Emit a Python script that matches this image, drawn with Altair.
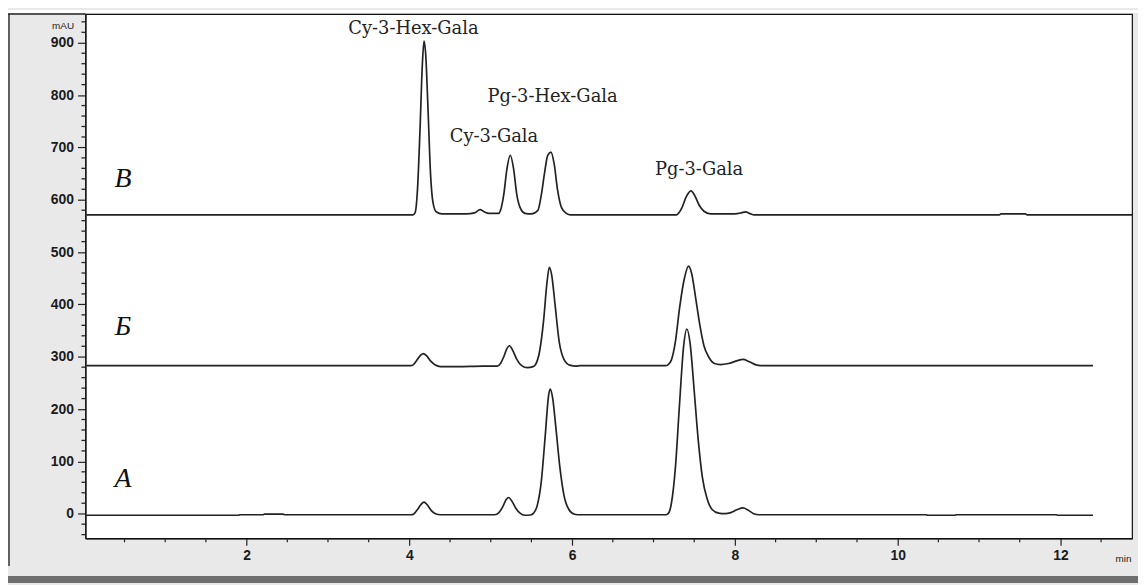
import altair as alt
import pandas as pd

# ---- chromatogram traces (time in min, signal in mAU) ----
a_t = [0.03, 1.90, 1.92, 2.20, 2.22, 2.45, 2.47, 4.02,
       4.05, 4.10, 4.14, 4.18, 4.22, 4.27, 4.32, 4.38,
       5.05, 5.10, 5.15, 5.19, 5.22, 5.26, 5.31, 5.36, 5.42, 5.50,
       5.52, 5.57, 5.62, 5.67, 5.71, 5.73, 5.76, 5.80, 5.85, 5.90, 5.96, 6.03, 6.10,
       7.15, 7.18, 7.22, 7.27, 7.32, 7.37, 7.41, 7.45, 7.50, 7.55, 7.60, 7.66, 7.72,
       7.80, 7.88, 7.95, 8.03, 8.10, 8.16, 8.23, 8.30,
       10.35, 10.37, 10.70, 10.72, 11.95, 11.97, 12.40]
a_v = [-3, -3, -2, -2, -1, -1, -2, -2,
       -1, 8, 17, 22, 17, 6, 0, -2,
       -2, 2, 14, 27, 31, 24, 10, 1, -3, -2,
       0, 15, 60, 150, 225, 238, 222, 165, 88, 35, 8, -1, -2,
       -2, 0, 20, 90, 210, 320, 353, 325, 235, 140, 70, 28, 8,
       1, 0, 2, 8, 11, 7, 0, -2,
       -2, -3, -3, -2, -2, -3, -3]

b_t = [0.03, 4.02, 4.05, 4.10, 4.14, 4.17, 4.21, 4.26, 4.32, 4.38, 4.60, 4.90,
       5.08, 5.12, 5.16, 5.20, 5.23, 5.27, 5.32, 5.38, 5.45, 5.52,
       5.55, 5.60, 5.65, 5.69, 5.72, 5.75, 5.79, 5.84, 5.90, 5.97, 6.05, 6.10,
       7.15, 7.18, 7.22, 7.27, 7.32, 7.38, 7.43, 7.47, 7.52, 7.57, 7.62, 7.68,
       7.75, 7.82, 7.92, 8.02, 8.10, 8.17, 8.25, 8.32, 12.40]
b_v = [283, 283, 285, 295, 303, 306, 302, 292, 284, 281, 281, 282,
       282, 287, 300, 316, 321, 312, 295, 283, 279, 281,
       285, 310, 370, 440, 471, 455, 400, 330, 295, 284, 282, 283,
       283, 285, 294, 330, 393, 450, 473, 458, 410, 360, 321, 299,
       287, 285, 287, 292, 295, 291, 285, 283, 283]

c_t = [0.03, 4.04, 4.07, 4.10, 4.13, 4.16, 4.18, 4.20, 4.23, 4.26, 4.29, 4.33, 4.40,
       4.70, 4.80, 4.87, 4.92, 4.98, 5.10,
       5.12, 5.16, 5.20, 5.24, 5.28, 5.32, 5.37, 5.42, 5.50,
       5.58, 5.62, 5.66, 5.70, 5.74, 5.78, 5.82, 5.87, 5.93, 5.98,
       7.28, 7.30, 7.35, 7.40, 7.46, 7.51, 7.56, 7.62, 7.70, 7.80,
       8.00, 8.08, 8.13, 8.18, 8.24, 11.25, 11.27, 11.57, 11.59, 12.88]
c_v = [571, 571, 575, 620, 730, 860, 903, 880, 770, 650, 595, 577, 573,
       573, 575, 581, 577, 574, 574,
       580, 610, 660, 685, 660, 610, 582, 574, 573,
       580, 608, 650, 685, 691, 668, 620, 585, 574, 571,
       571, 573, 585, 605, 617, 607, 590, 578, 573, 573,
       573, 575, 577, 574, 571, 571, 573, 573, 571, 571]

# ---- annotations ----
peak_names = ["Cy-3-Hex-Gala", "Pg-3-Hex-Gala", "Cy-3-Gala", "Pg-3-Gala"]
peak_t = [4.05, 5.76, 5.04, 7.56]
peak_v = [926, 797, 720, 657]

sample_names = ["В", "Б", "А"]
sample_t = [0.48, 0.48, 0.48]
sample_v = [640, 356, 67]

# ---- axis ticks ----
x_major = [2, 4, 6, 8, 10, 12]
x_minor = [0.5, 1, 1.5, 2.5, 3, 3.5, 4.5, 5, 5.5, 6.5, 7, 7.5, 8.5, 9, 9.5,
           10.5, 11, 11.5, 12.5]
y_major = [0, 100, 200, 300, 400, 500, 600, 700, 800, 900]
y_minor = [-40, -20, 20, 40, 60, 80, 120, 140, 160, 180, 220, 240, 260, 280,
           320, 340, 360, 380, 420, 440, 460, 480, 520, 540, 560, 580,
           620, 640, 660, 680, 720, 740, 760, 780, 820, 840, 860, 880, 920, 940]

X_DOMAIN = [0.02, 12.88]
Y_DOMAIN = [-47, 955]
PLOT_W = 1054
PLOT_H = 528

traces = pd.concat([
    pd.DataFrame({"t": a_t, "v": a_v, "trace": "А"}),
    pd.DataFrame({"t": b_t, "v": b_v, "trace": "Б"}),
    pd.DataFrame({"t": c_t, "v": c_v, "trace": "В"}),
], ignore_index=True)
peaks = pd.DataFrame({"name": peak_names, "t": peak_t, "v": peak_v})
samples = pd.DataFrame({"name": sample_names, "t": sample_t, "v": sample_v})

xscale = alt.Scale(domain=X_DOMAIN, nice=False, zero=False)
yscale = alt.Scale(domain=Y_DOMAIN, nice=False, zero=False)

x_axis = alt.Axis(
    values=x_major, format="d", labelOverlap=False,
    tickSize=7, tickColor="#222", tickWidth=1.2,
    domainColor="#111", domainWidth=1.2,
    labelFont="Liberation Sans", labelFontWeight="bold", labelFontSize=14,
    labelColor="#1a1a1a", labelPadding=3, grid=False,
    title="min", titleFont="Liberation Sans", titleFontWeight="normal",
    titleFontSize=10, titleColor="#222", titleX=1045, titleY=20,
    titleAlign="center", titleBaseline="middle",
)
y_axis = alt.Axis(
    values=y_major, format="d", labelOverlap=False,
    tickSize=8, tickColor="#222", tickWidth=1.2,
    domainColor="#111", domainWidth=1.2,
    labelFont="Liberation Sans", labelFontWeight="bold", labelFontSize=14,
    labelColor="#1a1a1a", labelPadding=4, grid=False,
    title="mAU", titleFont="Liberation Sans", titleFontWeight="normal",
    titleFontSize=10, titleColor="#222", titleAngle=0, titleX=-23, titleY=12,
    titleAlign="center", titleBaseline="middle",
)

lines = alt.Chart(traces).mark_line(
    color="#222222", strokeWidth=1.7, interpolate="monotone"
).encode(
    x=alt.X("t:Q", scale=xscale, axis=x_axis),
    y=alt.Y("v:Q", scale=yscale, axis=y_axis),
    detail="trace:N",
)

y_minor_ticks = alt.Chart(pd.DataFrame({"v": y_minor})).mark_rule(
    color="#222", strokeWidth=1.3
).encode(y=alt.Y("v:Q", scale=yscale), x=alt.value(-4), x2=alt.value(0))

x_minor_ticks = alt.Chart(pd.DataFrame({"t": x_minor})).mark_rule(
    color="#222", strokeWidth=1.2
).encode(x=alt.X("t:Q", scale=xscale), y=alt.value(PLOT_H), y2=alt.value(PLOT_H + 4))

peak_text = alt.Chart(peaks).mark_text(
    font="DejaVu Serif", fontSize=18, color="#222", align="center", baseline="middle"
).encode(x=alt.X("t:Q", scale=xscale), y=alt.Y("v:Q", scale=yscale), text="name:N")

sample_text = alt.Chart(samples).mark_text(
    font="Liberation Serif", fontStyle="italic", fontSize=28, color="#111",
    align="center", baseline="middle"
).encode(x=alt.X("t:Q", scale=xscale), y=alt.Y("v:Q", scale=yscale), text="name:N")

one = alt.Data(values=[{"k": 1}])
top_strip = alt.Chart(one).mark_rect(color="white").encode(
    x=alt.value(-78), x2=alt.value(1060), y=alt.value(-4), y2=alt.value(-1)
)
left_border = alt.Chart(one).mark_rule(color="#333", strokeWidth=1.5).encode(
    x=alt.value(-77), y=alt.value(0), y2=alt.value(556)
)
top_border = alt.Chart(one).mark_rule(color="#222", strokeWidth=1.5).encode(
    x=alt.value(-78), x2=alt.value(0), y=alt.value(0)
)
bottom_band = alt.Chart(one).mark_rect(color="#6f6f6f").encode(
    x=alt.value(-78), x2=alt.value(1060), y=alt.value(566), y2=alt.value(573)
)

chart = alt.layer(
    top_strip, bottom_band, left_border, top_border,
    y_minor_ticks, x_minor_ticks, lines, peak_text, sample_text
).properties(
    width=PLOT_W, height=PLOT_H,
    autosize=alt.AutoSizeParams(type="none"),
    padding={"left": 78, "top": 4, "right": 6, "bottom": 45},
    background="#e9e9e9",
).configure_view(
    fill="white", stroke="#111", strokeWidth=1.2
)

chart.save("out.html", embed_options={"renderer": "svg", "actions": False})
